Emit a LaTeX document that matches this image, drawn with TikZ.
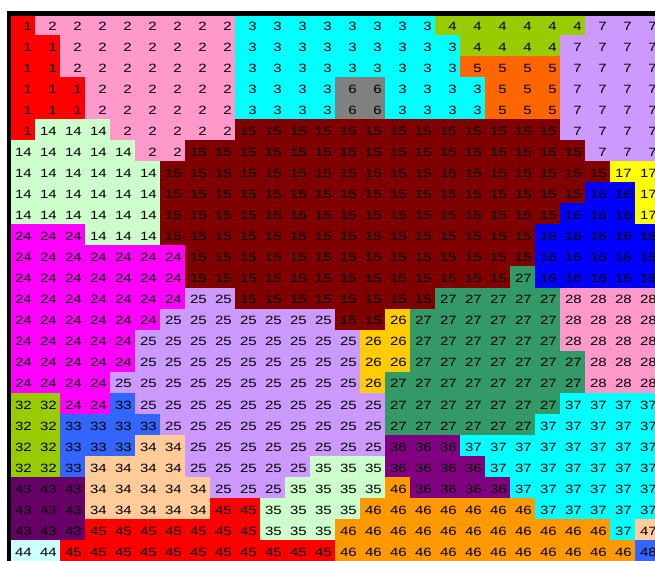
\documentclass[tikz,border=0pt]{standalone}
\usepackage{fontspec}
\newfontfamily\cellfont[FakeStretch=1.25]{Liberation Sans}
\definecolor{c1}{HTML}{FF0000}
\definecolor{c2}{HTML}{FF99CC}
\definecolor{c3}{HTML}{00FFFF}
\definecolor{c4}{HTML}{99CC00}
\definecolor{c5}{HTML}{FF6600}
\definecolor{c6}{HTML}{808080}
\definecolor{c7}{HTML}{CC99FF}
\definecolor{c14}{HTML}{CCFFCC}
\definecolor{c15}{HTML}{800000}
\definecolor{c16}{HTML}{0000FF}
\definecolor{c17}{HTML}{FFFF00}
\definecolor{c24}{HTML}{FF00FF}
\definecolor{c25}{HTML}{CC99FF}
\definecolor{c26}{HTML}{FFCC00}
\definecolor{c27}{HTML}{339966}
\definecolor{c28}{HTML}{FF99CC}
\definecolor{c32}{HTML}{99CC00}
\definecolor{c33}{HTML}{3366FF}
\definecolor{c34}{HTML}{FFCC99}
\definecolor{c35}{HTML}{CCFFCC}
\definecolor{c36}{HTML}{800080}
\definecolor{c37}{HTML}{00FFFF}
\definecolor{c43}{HTML}{660066}
\definecolor{c44}{HTML}{CCFFFF}
\definecolor{c45}{HTML}{FF0000}
\definecolor{c46}{HTML}{FF9900}
\definecolor{c47}{HTML}{FFCC99}
\definecolor{c48}{HTML}{3366FF}
\tikzset{
  celltext/.style={anchor=base east, inner sep=0pt, text=black, font=\cellfont\fontsize{12}{12}\selectfont},
  frameline/.style={fill=black}
}
\def\griddata{{1,2,2,2,2,2,2,2,2,3,3,3,3,3,3,3,3,4,4,4,4,4,4,7,7,7},{1,1,2,2,2,2,2,2,2,3,3,3,3,3,3,3,3,3,4,4,4,4,7,7,7,7},{1,1,2,2,2,2,2,2,2,3,3,3,3,3,3,3,3,3,5,5,5,5,7,7,7,7},{1,1,1,2,2,2,2,2,2,3,3,3,3,6,6,3,3,3,3,5,5,5,7,7,7,7},{1,1,1,2,2,2,2,2,2,3,3,3,3,6,6,3,3,3,3,5,5,5,7,7,7,7},{1,14,14,14,2,2,2,2,2,15,15,15,15,15,15,15,15,15,15,15,15,15,7,7,7,7},{14,14,14,14,14,2,2,15,15,15,15,15,15,15,15,15,15,15,15,15,15,15,15,7,7,7},{14,14,14,14,14,14,15,15,15,15,15,15,15,15,15,15,15,15,15,15,15,15,15,15,17,17},{14,14,14,14,14,14,15,15,15,15,15,15,15,15,15,15,15,15,15,15,15,15,15,16,16,17},{14,14,14,14,14,14,15,15,15,15,15,15,15,15,15,15,15,15,15,15,15,15,16,16,16,17},{24,24,24,14,14,14,15,15,15,15,15,15,15,15,15,15,15,15,15,15,15,16,16,16,16,16},{24,24,24,24,24,24,24,15,15,15,15,15,15,15,15,15,15,15,15,15,15,16,16,16,16,16},{24,24,24,24,24,24,24,15,15,15,15,15,15,15,15,15,15,15,15,15,27,16,16,16,16,16},{24,24,24,24,24,24,24,25,25,15,15,15,15,15,15,15,15,27,27,27,27,27,28,28,28,28},{24,24,24,24,24,24,25,25,25,25,25,25,25,15,15,26,27,27,27,27,27,27,28,28,28,28},{24,24,24,24,24,25,25,25,25,25,25,25,25,25,26,26,27,27,27,27,27,27,28,28,28,28},{24,24,24,24,24,25,25,25,25,25,25,25,25,25,26,26,27,27,27,27,27,27,27,28,28,28},{24,24,24,24,25,25,25,25,25,25,25,25,25,25,26,27,27,27,27,27,27,27,27,28,28,28},{32,32,24,24,33,25,25,25,25,25,25,25,25,25,25,27,27,27,27,27,27,27,37,37,37,37},{32,32,33,33,33,33,25,25,25,25,25,25,25,25,25,27,27,27,27,27,27,37,37,37,37,37},{32,32,33,33,33,34,34,25,25,25,25,25,25,25,25,36,36,36,37,37,37,37,37,37,37,37},{32,32,33,34,34,34,34,25,25,25,25,25,35,35,35,36,36,36,36,37,37,37,37,37,37,37},{43,43,43,34,34,34,34,34,25,25,25,35,35,35,35,46,36,36,36,36,37,37,37,37,37,37},{43,43,43,34,34,34,34,34,45,45,35,35,35,35,46,46,46,46,46,46,46,37,37,37,37,37},{43,43,43,45,45,45,45,45,45,45,35,35,35,46,46,46,46,46,46,46,46,46,46,46,37,47},{44,44,45,45,45,45,45,45,45,45,45,45,45,46,46,46,46,46,46,46,46,46,46,46,46,48}}
\begin{document}
\begin{tikzpicture}[x=1pt,y=-1pt]
\useasboundingbox (0,0) rectangle (655,561);
\fill[white] (0,0) rectangle (655,561);
\begin{scope}
\clip (0,0) rectangle (655,561);
\foreach \row [count=\r from 0] in \griddata {
  \pgfmathsetmacro{\ytop}{14+21.04*\r}
  \foreach \v [count=\c from 0] in \row {
    \pgfmathsetmacro{\xl}{10+25*\c}
    \fill[c\v] (\xl,\ytop) rectangle ({\xl+25.4},{\ytop+21.4});
  }
}
\foreach \row [count=\r from 0] in \griddata {
  \pgfmathsetmacro{\ytop}{14+21.04*\r}
  \foreach \v [count=\c from 0] in \row {
    \pgfmathsetmacro{\xl}{10+25*\c}
    \node[celltext] (n-\r-\c) at ({\xl+22},{\ytop+16.3}) {\v};
  }
}
\end{scope}
\fill[frameline] (7,11) rectangle (11,561);
\fill[frameline] (7,11) rectangle (655,16);
\end{tikzpicture}
\end{document}
